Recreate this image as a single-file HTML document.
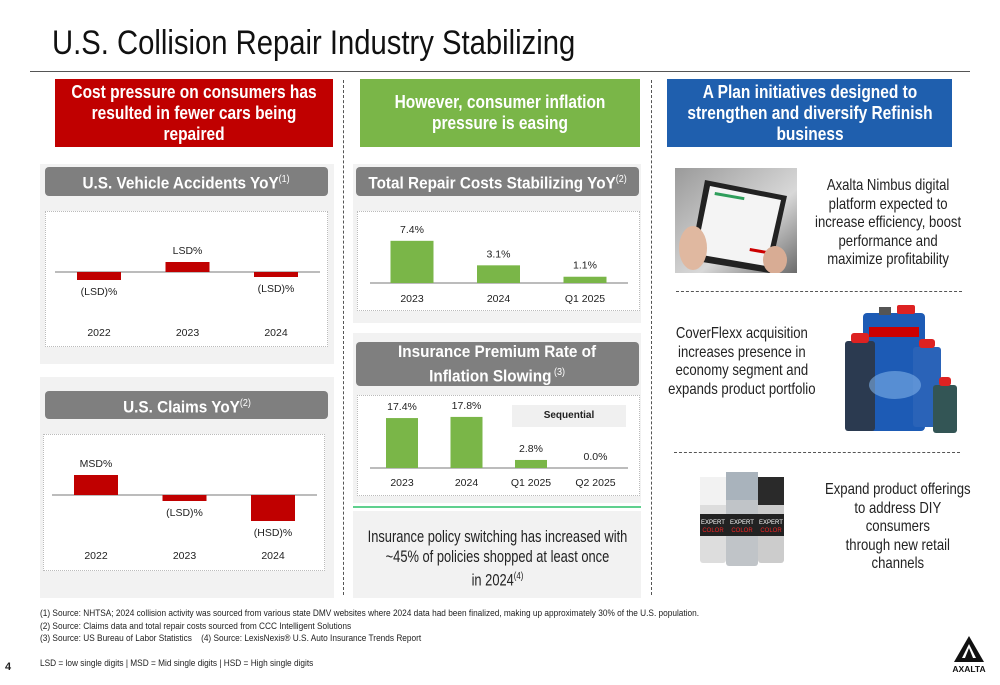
<!DOCTYPE html>
<html><head><meta charset="utf-8">
<style>
*{margin:0;padding:0;box-sizing:border-box}
body{width:1000px;height:685px;background:#fff;position:relative;overflow:hidden;font-family:"Liberation Sans",Arial,sans-serif;color:#222}
.a{position:absolute}
.hdr{position:absolute;color:#fff;font-weight:bold;font-size:18px;line-height:21px;text-align:center;display:flex;align-items:center;justify-content:center;overflow:visible}
.hdr span{display:block;flex:none;transform:scaleX(0.86);transform-origin:center}
.ghdr{position:absolute;background:#7f7f7f;border-radius:4px;color:#fff;font-weight:bold;font-size:17px;text-align:center;display:flex;align-items:center;justify-content:center;line-height:21px}
.ghdr span{display:block;flex:none;white-space:nowrap;transform:scaleX(0.9);transform-origin:center}
.ghdr sup{font-weight:normal;font-size:10px}
.panel{position:absolute;background:#f2f2f2}
.box{position:absolute;background:#fff;border:1px dotted #bbb}
.rt{position:absolute;font-size:16px;line-height:18.5px;display:flex;justify-content:center}
.rt span{display:block;flex:none;text-align:center;white-space:nowrap;transform:scaleX(0.82);transform-origin:center top}
.fn{position:absolute;left:40px;font-size:9px;color:#222;white-space:nowrap;transform:scaleX(0.92);transform-origin:left}
.vd{position:absolute;border-left:1px dashed #555;width:0}
.hd{position:absolute;border-top:1px dashed #555;height:0}
svg text{font-family:"Liberation Sans",sans-serif}
</style></head><body>
<div class="a" style="left:52px;top:24px;font-size:34px;color:#111;white-space:nowrap;transform:scaleX(0.86);transform-origin:left">U.S. Collision Repair Industry Stabilizing</div>
<div class="a" style="left:30px;top:71px;width:940px;height:1px;background:#555"></div>

<div class="hdr" style="left:55px;top:79px;width:278px;height:68px;background:#c00000"><span style="width:290px">Cost pressure on consumers has resulted in fewer cars being repaired</span></div>
<div class="hdr" style="left:360px;top:79px;width:280px;height:68px;background:#7ab648"><span style="width:290px">However, consumer inflation pressure is easing</span></div>
<div class="hdr" style="left:667px;top:79px;width:285px;height:68px;background:#1f5fae"><span style="width:300px">A Plan initiatives designed to strengthen and diversify Refinish business</span></div>

<div class="vd" style="left:343px;top:80px;height:515px"></div>
<div class="vd" style="left:651px;top:80px;height:515px"></div>

<div class="panel" style="left:40px;top:164px;width:294px;height:200px"></div>
<div class="ghdr" style="left:45px;top:167px;width:283px;height:29px"><span>U.S. Vehicle Accidents YoY<sup>(1)</sup></span></div>
<div class="box" style="left:45px;top:211px;width:283px;height:136px"></div>

<div class="panel" style="left:40px;top:377px;width:294px;height:221px"></div>
<div class="ghdr" style="left:45px;top:391px;width:283px;height:28px"><span>U.S. Claims YoY<sup>(2)</sup></span></div>
<div class="box" style="left:43px;top:434px;width:282px;height:137px"></div>

<div class="panel" style="left:353px;top:164px;width:288px;height:159px"></div>
<div class="ghdr" style="left:356px;top:167px;width:283px;height:29px"><span>Total Repair Costs Stabilizing YoY<sup>(2)</sup></span></div>
<div class="box" style="left:357px;top:211px;width:283px;height:100px"></div>

<div class="panel" style="left:353px;top:333px;width:288px;height:170px"></div>
<div class="ghdr" style="left:356px;top:342px;width:283px;height:44px"><span>Insurance Premium Rate of<br>Inflation Slowing<sup> (3)</sup></span></div>
<div class="box" style="left:357px;top:395px;width:283px;height:101px"></div>
<div class="a" style="left:512px;top:405px;width:114px;height:22px;background:#f0f0f0;font-size:10px;font-weight:bold;text-align:center;line-height:22px">Sequential</div>

<div class="a" style="left:353px;top:506px;width:288px;height:2px;background:#5fd08e"></div>
<div class="panel" style="left:353px;top:511px;width:288px;height:87px"></div>
<div class="rt" style="left:353px;top:528px;width:288px;line-height:19.5px;font-size:16.5px"><span style="transform:scaleX(0.78)">Insurance policy switching has increased with<br>~45% of policies shopped at least once<br>in 2024<sup style="font-size:10px">(4)</sup></span></div>

<svg class="a" style="left:0;top:0" width="1000" height="685" id="charts"></svg>

<svg class="a" style="left:675px;top:168px" width="122" height="105">
<defs><linearGradient id="g1" x1="0" y1="0" x2="1" y2="1"><stop offset="0" stop-color="#9a9a9a"/><stop offset="0.6" stop-color="#d8d8d8"/><stop offset="1" stop-color="#6b6b6b"/></linearGradient></defs>
<rect width="122" height="105" fill="url(#g1)"/>
<polygon points="30,12 112,28 95,105 15,92" fill="#222"/><polygon points="35,18 106,32 91,98 21,86" fill="#f4f4f4"/>
<rect x="40" y="24" width="30" height="3" fill="#2e9e5b" transform="rotate(10 40 24)"/><rect x="75" y="80" width="18" height="3" fill="#c00" transform="rotate(10 75 80)"/>
<ellipse cx="18" cy="80" rx="14" ry="22" fill="#e0b8a0"/><ellipse cx="100" cy="92" rx="12" ry="14" fill="#d8ac94"/></svg>
<div class="rt" style="left:812px;top:177px;width:152px"><span>Axalta Nimbus digital<br>platform expected to<br>increase efficiency, boost<br>performance and<br>maximize profitability</span></div>
<div class="hd" style="left:676px;top:291px;width:286px"></div>

<div class="rt" style="left:664px;top:325px;width:155px"><span>CoverFlexx acquisition<br>increases presence in<br>economy segment and<br>expands product portfolio</span></div>
<svg class="a" style="left:845px;top:305px" width="120" height="130">
<rect x="18" y="8" width="62" height="118" rx="4" fill="#1d5bb5"/><rect x="34" y="2" width="12" height="8" fill="#555"/><rect x="52" y="0" width="18" height="9" rx="2" fill="#d22"/>
<rect x="24" y="22" width="50" height="10" fill="#c00"/>
<rect x="0" y="36" width="30" height="90" rx="3" fill="#2b3a50"/><rect x="6" y="28" width="18" height="10" rx="3" fill="#d22"/>
<rect x="68" y="42" width="28" height="80" rx="3" fill="#2a63b8"/><rect x="74" y="34" width="16" height="9" rx="3" fill="#d22"/>
<rect x="88" y="80" width="24" height="48" rx="3" fill="#355"/><rect x="94" y="72" width="12" height="9" rx="3" fill="#d22"/>
<ellipse cx="50" cy="80" rx="26" ry="14" fill="#7fb0e8" opacity=".6"/></svg>
<div class="hd" style="left:674px;top:452px;width:286px"></div>

<svg class="a" style="left:698px;top:472px" width="90" height="96">
<rect x="2" y="5" width="26" height="86" rx="3" fill="#ddd"/><rect x="2" y="5" width="26" height="28" fill="#f2f2f2"/>
<rect x="28" y="0" width="32" height="94" rx="3" fill="#c0c4c8"/><rect x="28" y="0" width="32" height="28" fill="#a9b3bc"/>
<rect x="60" y="5" width="26" height="86" rx="3" fill="#ccc"/><rect x="60" y="5" width="26" height="28" fill="#2a2a2a"/>
<rect x="2" y="42" width="84" height="22" fill="#222"/>
<text x="15" y="52" font-size="6" fill="#fff" text-anchor="middle">EXPERT</text><text x="44" y="52" font-size="6" fill="#fff" text-anchor="middle">EXPERT</text><text x="73" y="52" font-size="6" fill="#fff" text-anchor="middle">EXPERT</text>
<text x="15" y="60" font-size="6" fill="#e22" text-anchor="middle">COLOR</text><text x="44" y="60" font-size="6" fill="#e22" text-anchor="middle">COLOR</text><text x="73" y="60" font-size="6" fill="#e22" text-anchor="middle">COLOR</text></svg>
<div class="rt" style="left:815px;top:481px;width:165px"><span>Expand product offerings<br>to address DIY<br>consumers<br>through new retail<br>channels</span></div>

<div class="fn" style="top:608px">(1) Source: NHTSA; 2024 collision activity was sourced from various state DMV websites where 2024 data had been finalized, making up approximately 30% of the U.S. population.</div>
<div class="fn" style="top:621px">(2) Source: Claims data and total repair costs sourced from CCC Intelligent Solutions</div>
<div class="fn" style="top:633px">(3) Source: US Bureau of Labor Statistics &nbsp;&nbsp; (4) Source: LexisNexis® U.S. Auto Insurance Trends Report</div>
<div class="fn" style="top:658px">LSD = low single digits | MSD = Mid single digits | HSD = High single digits</div>
<div class="a" style="left:5px;top:661px;font-size:11px;font-weight:bold">4</div>
<svg class="a" style="left:948px;top:634px" width="42" height="40">
<polygon points="21,2 36,28 6,28" fill="#111"/><polygon points="21,10 28,24 14,24" fill="#fff"/><polygon points="21,14 25,24 17,24" fill="#111"/>
<text x="21" y="38" font-size="8.5" font-weight="bold" text-anchor="middle" fill="#111">AXALTA</text></svg>

<script>
// Accidents YoY (ordinal estimates)
const accCats = ["2022","2023","2024"];
const accVals = [-1.6, 2, -1];
const accLabels = ["(LSD)%","LSD%","(LSD)%"];
// Claims YoY
const clmCats = ["2022","2023","2024"];
const clmVals = [4, -1.2, -5.2];
const clmLabels = ["MSD%","(LSD)%","(HSD)%"];
// Repair costs
const repCats = ["2023","2024","Q1 2025"];
const repVals = [7.4, 3.1, 1.1];
const repLabels = ["7.4%","3.1%","1.1%"];
// Insurance premium
const insCats = ["2023","2024","Q1 2025","Q2 2025"];
const insVals = [17.4, 17.8, 2.8, 0.0];
const insLabels = ["17.4%","17.8%","2.8%","0.0%"];

const NS = "http://www.w3.org/2000/svg";
const svg = document.getElementById("charts");
function mk(tag, attrs){const e=document.createElementNS(NS,tag);for(const k in attrs)e.setAttribute(k,attrs[k]);svg.appendChild(e);return e;}
function chart(name, cats, vals, labels, cfg){
  const ax = mk("line",{x1:cfg.ax0,x2:cfg.ax1,y1:cfg.base,y2:cfg.base,stroke:"#a6a6a6","stroke-width":1.5});
  
  
  const y = v => cfg.base - v*cfg.scale;
  cats.forEach((c,i)=>{
    const cx = cfg.x0 + i*cfg.step;
    const v = vals[i];
    const top = Math.min(y(v), cfg.base), h = Math.abs(y(v)-cfg.base);
    const r = mk("rect",{x:cx-cfg.w/2,y:top,width:cfg.w,height:Math.max(h,0.01),fill:cfg.color});
    
    
    const ly = v>=0 ? top-8 : top+h+15;
    const t = mk("text",{x:cx,y:ly,"font-size":10.5,"text-anchor":"middle",fill:"#222"});
    t.textContent = labels[i];
    
    
    const ct = mk("text",{x:cx,y:cfg.catY,"font-size":10.5,"text-anchor":"middle",fill:"#222"});
    ct.textContent = c;
    
    
  });
}
chart("accidents", accCats, accVals, accLabels, {x0:99,step:88.5,w:44,base:272,scale:5,ax0:55,ax1:320,catY:336,color:"#c00000"});
chart("claims", clmCats, clmVals, clmLabels, {x0:96,step:88.5,w:44,base:495,scale:5,ax0:52,ax1:317,catY:559,color:"#c00000"});
chart("repair", repCats, repVals, repLabels, {x0:412,step:86.5,w:43,base:283,scale:5.7,ax0:370,ax1:628,catY:302,color:"#7ab648"});
chart("insurance", insCats, insVals, insLabels, {x0:402,step:64.5,w:32,base:468,scale:2.87,ax0:370,ax1:628,catY:486,color:"#7ab648"});
</script>
</body></html>
